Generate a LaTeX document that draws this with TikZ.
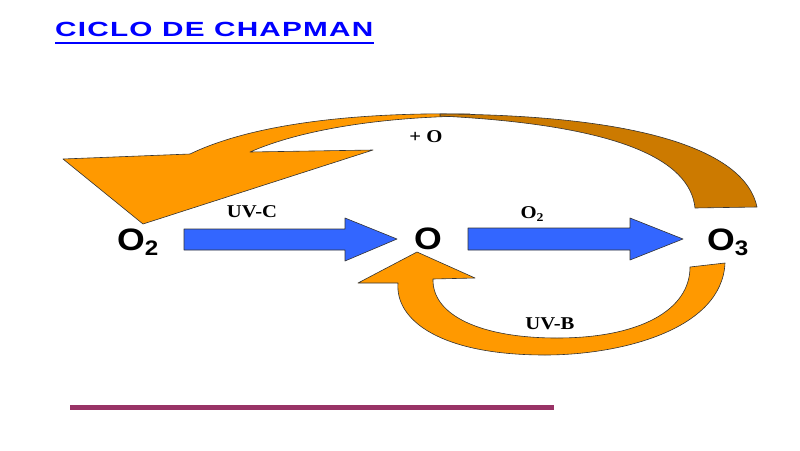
\documentclass[tikz,border=0pt]{standalone}
\usepackage{fontspec}
\setmainfont{Liberation Serif}[FakeStretch=1.15]
\setsansfont{Liberation Sans}[FakeStretch=1.15]
\newfontfamily\titlefont{Liberation Sans}[FakeStretch=1.45, LetterSpace=6]
\definecolor{orangeA}{HTML}{FF9900}
\definecolor{brownA}{HTML}{CC7A00}
\definecolor{blueA}{HTML}{3366FF}
\definecolor{titleblue}{HTML}{0000FF}
\definecolor{purpleA}{HTML}{993366}
\begin{document}
\begin{tikzpicture}[x=1pt,y=-1pt,
  shapeline/.style={draw=black!80, line width=0.6pt, line join=round},
  chem/.style={font=\sffamily\bfseries\fontsize{31}{31}\selectfont, inner sep=0pt, anchor=base west},
  lbl/.style={font=\rmfamily\bfseries\fontsize{18}{18}\selectfont, inner sep=0pt, anchor=base}]
\useasboundingbox (0,0) rectangle (800,450);
% title
\node[font=\titlefont\bfseries\fontsize{20.5}{20.5}\selectfont, text=titleblue, anchor=base west, inner sep=0pt] (title) at (55,36) {CICLO DE CHAPMAN};
\draw[titleblue, line width=2pt] ([yshift=-7pt]title.base west) -- ([yshift=-7pt]title.base east);
% top arrow: orange head part
\path[shapeline, fill=orangeA] (470,114) .. controls (350,112) and (250,125) .. (190,154)
  -- (63,159) -- (143,224) -- (373,150) -- (250,152)
  .. controls (300,130) and (380,117) .. (470,116) -- cycle;
% top arrow: brown band
\path[shapeline, fill=brownA] (757,207) .. controls (745,150) and (640,115) .. (440,114)
  -- (440,116) .. controls (620,125) and (690,160) .. (695,208) -- cycle;
% bottom arrow
\path[shapeline, fill=orangeA] (690,267) -- (725,263)
  .. controls (722,330) and (620,355) .. (545,355)
  .. controls (440,355) and (395,320) .. (398,283)
  -- (358,283) -- (417,252) -- (475,278) -- (433,279)
  .. controls (432,315) and (480,338) .. (557,338)
  .. controls (640,338) and (690,310) .. (690,267) -- cycle;
% blue arrows
\path[shapeline, fill=blueA] (184,229) -- (345,229) -- (345,218) -- (397,239) -- (345,261) -- (345,250) -- (184,250) -- cycle;
\path[shapeline, fill=blueA] (468,228) -- (630,228) -- (630,218) -- (683,239) -- (630,260) -- (630,250) -- (468,250) -- cycle;
% purple line
\draw[purpleA, line width=5pt] (70,407) -- (554,407);
% chemical labels
\node[chem] (o2) at (117,250) {O\raisebox{-5pt}{\fontsize{21}{21}\selectfont 2}};
\node[chem] (o) at (414,249) {O};
\node[chem] (o3) at (707,250) {O\raisebox{-5pt}{\fontsize{21}{21}\selectfont 3}};
% reaction labels
\node[lbl] (uvc) at (252,217) {UV-C};
\node[lbl] (o2b) at (532,218) {O\raisebox{-3pt}{\fontsize{12}{12}\selectfont 2}};
\node[lbl] (plo) at (426,142) {+ O};
\node[lbl] (uvb) at (550,329) {UV-B};
\end{tikzpicture}
\end{document}
